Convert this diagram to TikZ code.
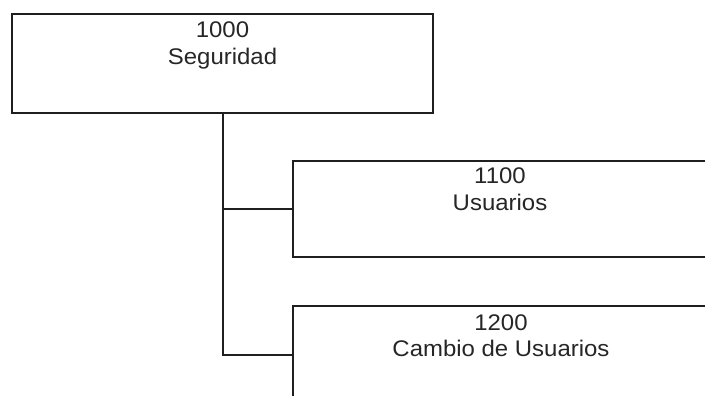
\documentclass[tikz,border=0pt]{standalone}
\usepackage{fontspec}
\setmainfont{Liberation Sans}[FakeStretch=1.06]
\begin{document}
\begin{tikzpicture}[x=1pt,y=-1pt,
  box/.style={draw=black!88, line width=1.5pt, fill=white},
  conn/.style={draw=black!88, line width=1.5pt},
  lbl/.style={anchor=base, inner sep=0pt, font=\fontsize{22.6pt}{27pt}\selectfont, text=black!85}]
\useasboundingbox (0,0) rectangle (705,396);
\begin{scope}
\clip (0,0) rectangle (705,396);
% top box
\draw[box] (12,14) rectangle (433,113);
\coordinate (b0s) at (223,113);
\node[lbl] (t0a) at (222.5,38) {1000};
\node[lbl] (t0b) at (222.5,64.5) {Seguridad};
% box 1100
\draw[box] (293,161) rectangle (707,257);
\coordinate (b1w) at (293,209);
\node[lbl] (t1a) at (500,183.5) {1100};
\node[lbl] (t1b) at (500,210) {Usuarios};
% box 1200
\draw[box] (293,306) rectangle (707,450);
\coordinate (b2w) at (293,355);
\node[lbl] (t2a) at (501,330.5) {1200};
\node[lbl] (t2b) at (501,356.5) {Cambio de Usuarios};
% connectors
\draw[conn] (b0s) |- (b2w);
\draw[conn] (b1w) -- (b1w -| b0s);
\end{scope}
\end{tikzpicture}
\end{document}
